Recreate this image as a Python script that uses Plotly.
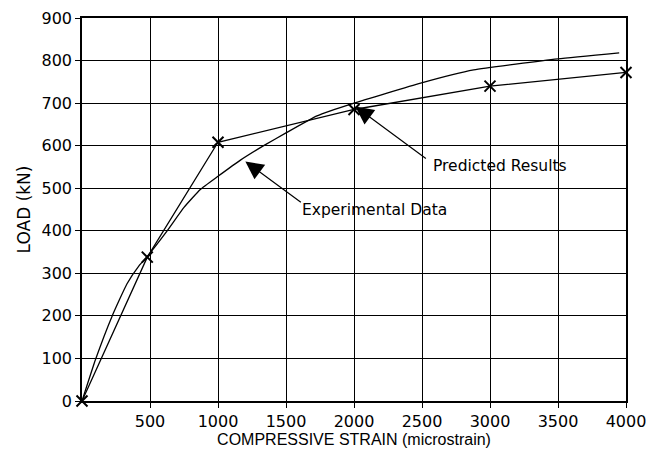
import plotly.graph_objects as go

# Predicted results (markers, straight segments)
pred_strain = [0, 480, 1000, 2000, 3000, 4000]
pred_load = [0, 338, 608, 685, 740, 772]

# Experimental data (smooth curve)
exp_strain = [0, 100, 222, 330, 420, 480, 626, 750, 870, 1000, 1165, 1336, 1500, 1728, 2000, 2490, 2880, 3500, 3950]
exp_load = [0, 98, 200, 275, 318, 340, 400, 455, 497, 528, 566, 600, 630, 670, 700, 747, 778, 804, 818]

x_ticks = [500, 1000, 1500, 2000, 2500, 3000, 3500, 4000]
y_ticks = [0, 100, 200, 300, 400, 500, 600, 700, 800, 900]

fig = go.Figure()
fig.add_trace(go.Scatter(x=exp_strain, y=exp_load, mode="lines",
                         line=dict(color="black", width=1.3, shape="spline", smoothing=0.4),
                         showlegend=False, cliponaxis=False))
fig.add_trace(go.Scatter(x=pred_strain, y=pred_load, mode="lines+markers",
                         line=dict(color="black", width=1.3),
                         marker=dict(symbol="x-thin", size=11, line=dict(color="black", width=2)),
                         showlegend=False, cliponaxis=False))

tick_font = dict(family="DejaVu Sans", size=16, color="black")
fig.update_layout(
    width=651, height=443,
    margin=dict(l=73.5, r=33, t=10, b=50),
    paper_bgcolor="white", plot_bgcolor="white",
    xaxis=dict(range=[0, 4000], tickvals=x_ticks, ticktext=[str(v) for v in x_ticks],
               showgrid=True, gridcolor="black", gridwidth=1,
               showline=True, linecolor="black", linewidth=1.5, mirror=True,
               ticks="outside", ticklen=5, tickcolor="black", tickfont=tick_font,
               zeroline=False, automargin=False, ticklabeloverflow="allow",
               title=dict(text="COMPRESSIVE STRAIN (microstrain)",
                          font=dict(family="Liberation Sans", size=16, color="black"),
                          standoff=1)),
    yaxis=dict(range=[0, 900], tickvals=y_ticks, ticktext=[str(v) for v in y_ticks],
               showgrid=True, gridcolor="black", gridwidth=1,
               showline=True, linecolor="black", linewidth=1.5, mirror=True,
               ticks="outside", ticklen=5, tickcolor="black", tickfont=tick_font,
               zeroline=False, automargin=False, ticklabeloverflow="allow",
               title=dict(text="LOAD (kN)",
                          font=dict(family="DejaVu Sans", size=17, color="black"),
                          standoff=7)),
)

ann_font = dict(family="DejaVu Sans", size=15.5, color="black")
# arrows
fig.add_annotation(x=1201, y=563, xref="x", yref="y", text="", showarrow=True,
                   ax=57, ay=42, axref="pixel", ayref="pixel",
                   arrowhead=2, arrowsize=3, arrowwidth=1.2, arrowcolor="black")
fig.add_annotation(x=2010, y=692, xref="x", yref="y", text="", showarrow=True,
                   ax=72, ay=53, axref="pixel", ayref="pixel",
                   arrowhead=2, arrowsize=3, arrowwidth=1.2, arrowcolor="black")
# labels
fig.add_annotation(x=1605, y=448, xref="x", yref="y", text="Experimental Data",
                   showarrow=False, xanchor="left", yanchor="middle", font=ann_font)
fig.add_annotation(x=2563, y=553, xref="x", yref="y", text="Predicted Results",
                   showarrow=False, xanchor="left", yanchor="middle", font=ann_font)

fig.write_html("out.html")
